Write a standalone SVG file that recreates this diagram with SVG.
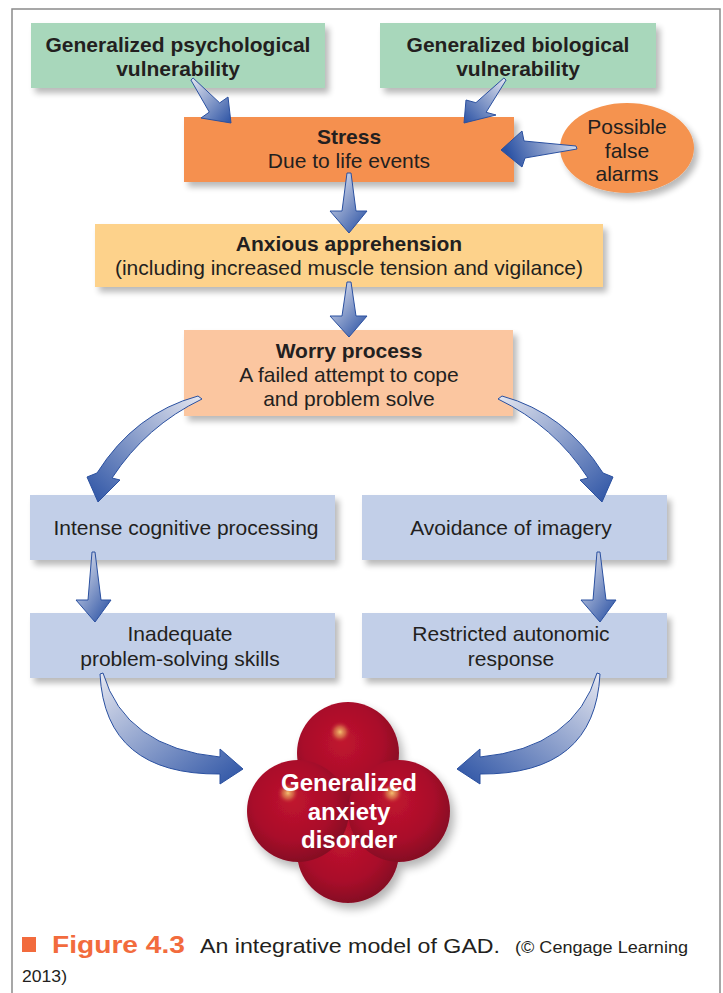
<svg xmlns="http://www.w3.org/2000/svg" width="723" height="993" viewBox="0 0 723 993">
<style>
.t{font-family:"Liberation Sans",Arial,sans-serif;font-size:21px;fill:#231f20;text-anchor:middle}
.b{font-weight:bold}
.w{font-family:"Liberation Sans",Arial,sans-serif;font-size:24px;font-weight:bold;fill:#ffffff;text-anchor:middle}
.arr{stroke:#2a50a0;stroke-width:1;stroke-linejoin:round}
.box{filter:url(#sh)}
</style>
<defs>
<filter id="sh" x="-10%" y="-20%" width="130%" height="150%">
<feGaussianBlur in="SourceAlpha" stdDeviation="3"/>
<feOffset dx="4" dy="5"/>
<feComponentTransfer><feFuncA type="linear" slope="0.28"/></feComponentTransfer>
<feMerge><feMergeNode/><feMergeNode in="SourceGraphic"/></feMerge>
</filter>
<linearGradient id="gD" x1="0.1" y1="0" x2="0.9" y2="1"><stop offset="0" stop-color="#e4e6f0"/><stop offset="1" stop-color="#2b52a4"/></linearGradient>
<linearGradient id="gDR" x1="0" y1="0" x2="1" y2="1"><stop offset="0" stop-color="#e4e6f0"/><stop offset="1" stop-color="#2b52a4"/></linearGradient>
<linearGradient id="gDL" x1="1" y1="0" x2="0" y2="1"><stop offset="0" stop-color="#e4e6f0"/><stop offset="1" stop-color="#2b52a4"/></linearGradient>
<linearGradient id="gL" x1="1" y1="0" x2="0" y2="0.2"><stop offset="0" stop-color="#e4e6f0"/><stop offset="1" stop-color="#2b52a4"/></linearGradient>
<radialGradient id="ball" cx="0.45" cy="0.4" r="0.65"><stop offset="0" stop-color="#c0142f"/><stop offset="0.6" stop-color="#a90d2a"/><stop offset="1" stop-color="#7e0722"/></radialGradient>
<radialGradient id="hl" cx="0.5" cy="0.5" r="0.5"><stop offset="0" stop-color="#f4c070"/><stop offset="0.5" stop-color="#e08a50" stop-opacity="0.6"/><stop offset="1" stop-color="#c0142f" stop-opacity="0"/></radialGradient>
<filter id="bsh" x="-20%" y="-20%" width="140%" height="140%">
<feGaussianBlur in="SourceAlpha" stdDeviation="5"/>
<feOffset dx="4" dy="6"/>
<feComponentTransfer><feFuncA type="linear" slope="0.3"/></feComponentTransfer>
<feMerge><feMergeNode/><feMergeNode in="SourceGraphic"/></feMerge>
</filter>
</defs>
<rect x="0" y="0" width="723" height="993" fill="#ffffff"/>
<rect x="12" y="9" width="708" height="1000" fill="none" stroke="#8a8a8a" stroke-width="1.5"/>

<g id="psych">
<rect class="box" x="31" y="23" width="294" height="65" fill="#a8d7bb"/>
<text class="t b" x="178" y="52">Generalized psychological</text>
<text class="t b" x="178" y="76">vulnerability</text>
</g>
<g id="bio">
<rect class="box" x="380" y="23" width="276" height="65" fill="#a8d7bb"/>
<text class="t b" x="518" y="52">Generalized biological</text>
<text class="t b" x="518" y="76">vulnerability</text>
</g>
<g id="stress">
<rect class="box" x="184" y="117" width="330" height="65" fill="#f5904f"/>
<text class="t b" x="349" y="144">Stress</text>
<text class="t" x="349" y="168">Due to life events</text>
</g>
<g id="alarms">
<ellipse class="box" cx="627" cy="148" rx="67" ry="45" fill="#f5934f"/>
<text class="t" x="627" y="134">Possible</text>
<text class="t" x="627" y="158">false</text>
<text class="t" x="627" y="181">alarms</text>
</g>
<g id="anxious">
<rect class="box" x="95" y="224" width="508" height="63" fill="#fdd28b"/>
<text class="t b" x="349" y="251">Anxious apprehension</text>
<text class="t" x="349" y="275">(including increased muscle tension and vigilance)</text>
</g>
<g id="worry">
<rect class="box" x="184" y="330" width="329" height="86" fill="#fbc6a0"/>
<text class="t b" x="349" y="358">Worry process</text>
<text class="t" x="349" y="382">A failed attempt to cope</text>
<text class="t" x="349" y="406">and problem solve</text>
</g>
<g id="intense">
<rect class="box" x="30" y="495" width="305" height="65" fill="#c2cfe8"/>
<text class="t" x="186" y="535">Intense cognitive processing</text>
</g>
<g id="avoid">
<rect class="box" x="362" y="495" width="305" height="65" fill="#c2cfe8"/>
<text class="t" x="511" y="535">Avoidance of imagery</text>
</g>
<g id="inadequate">
<rect class="box" x="30" y="613" width="305" height="65" fill="#c2cfe8"/>
<text class="t" x="180" y="641">Inadequate</text>
<text class="t" x="180" y="666">problem-solving skills</text>
</g>
<g id="restricted">
<rect class="box" x="362" y="613" width="305" height="65" fill="#c2cfe8"/>
<text class="t" x="511" y="641">Restricted autonomic</text>
<text class="t" x="511" y="666">response</text>
</g>

<g id="gad">
<g filter="url(#bsh)">
<circle cx="348" cy="852" r="51" fill="url(#ball)"/>
<circle cx="348" cy="753" r="51" fill="url(#ball)"/>
<circle cx="298" cy="811" r="51" fill="url(#ball)"/>
<circle cx="399" cy="811" r="51" fill="url(#ball)"/>
</g>
<circle cx="340" cy="732" r="11" fill="url(#hl)"/>
<circle cx="288" cy="793" r="11" fill="url(#hl)"/>
<circle cx="392" cy="793" r="11" fill="url(#hl)"/>
<text class="w" x="349" y="791">Generalized</text>
<text class="w" x="349" y="820">anxiety</text>
<text class="w" x="349" y="848">disorder</text>
</g>

<g id="connectors">
<polygon class="arr" fill="url(#gDR)" points="190.9,80 209.3,112.1 201,118 231,123 228,97 219.7,102.9 193.1,78"/>
<polygon class="arr" fill="url(#gDL)" points="503.9,78 475.9,102.7 466,100 464,123 496,115 486.1,112.3 506.1,80"/>
<polygon class="arr" fill="url(#gL)" points="576,146 524,141 522,131 501,150 522,167 525,158 577,149"/>
<polygon class="arr" fill="url(#gD)" points="347,173 342,211 330,211 349,233 367,211 356,211 351,173"/>
<polygon class="arr" fill="url(#gD)" points="347,282 342,316 330,316 349,337 367,316 356,316 351,282"/>
<path class="arr" fill="url(#gDL)" d="M198,396 Q135,413 97,473 L87,477 L98,502 L120,480 L112,478 Q146,426 202,399 Z"/>
<path class="arr" fill="url(#gDR)" d="M502,396 Q565,413 603,473 L613,477 L602,502 L580,480 L588,478 Q554,426 498,399 Z"/>
<polygon class="arr" fill="url(#gD)" points="92,552 88,600 76,600 95,622 111,600 101,600 95,552"/>
<polygon class="arr" fill="url(#gD)" points="597,552 593,600 581,600 600,622 616,600 606,600 600,552"/>
<path class="arr" fill="url(#gDR)" d="M103,673 Q125,748 220,757 L220,749 L243,769 L220,784 L220,774 Q105,775 100,674 Z"/>
<path class="arr" fill="url(#gDL)" d="M597,673 Q575,748 480,757 L480,749 L457,769 L480,784 L480,774 Q595,775 600,674 Z"/>
</g>

<g id="caption">
<rect x="22" y="937" width="14" height="15" fill="#f26b3d"/>
<text x="52" y="953" font-family="'Liberation Sans',Arial,sans-serif" font-size="24" font-weight="bold" fill="#f26b3d" textLength="133" lengthAdjust="spacingAndGlyphs">Figure 4.3</text>
<text x="200" y="953" font-family="'Liberation Sans',Arial,sans-serif" font-size="21" fill="#231f20" textLength="300" lengthAdjust="spacingAndGlyphs">An integrative model of GAD.</text>
<text x="515" y="953" font-family="'Liberation Sans',Arial,sans-serif" font-size="17" fill="#231f20" textLength="173" lengthAdjust="spacingAndGlyphs">(© Cengage Learning</text>
<text x="22" y="982" font-family="'Liberation Sans',Arial,sans-serif" font-size="17" fill="#231f20" textLength="45" lengthAdjust="spacingAndGlyphs">2013)</text>
</g>
</svg>
